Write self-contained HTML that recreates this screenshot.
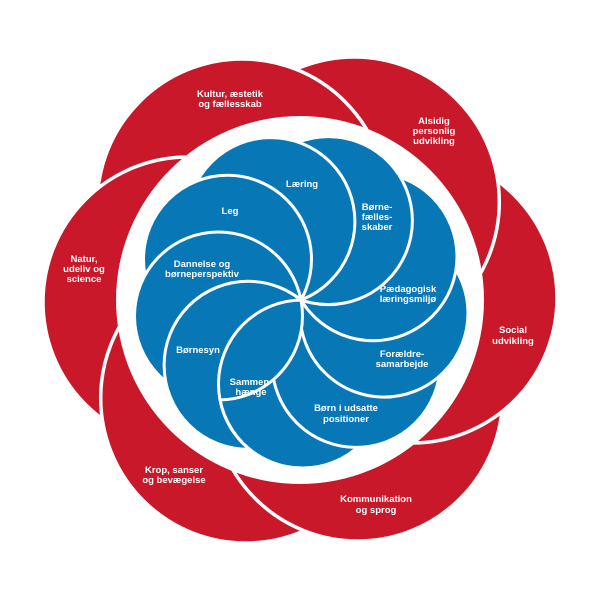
<!DOCTYPE html>
<html><head><meta charset="utf-8"><style>
html,body{margin:0;padding:0;background:#fff;}
svg{display:block;}
text{font-family:"Liberation Sans",sans-serif;font-weight:bold;font-size:9.5px;fill:#fff;text-anchor:middle;}
</style></head><body>
<svg width="600" height="600" viewBox="0 0 600 600" xmlns="http://www.w3.org/2000/svg">
<defs>
<clipPath id="cr"><polygon points="106,650 -244,456 144,-244 494,-50"/></clipPath>
<clipPath id="cbs"><circle cx="248.1" cy="365.3" r="84"/></clipPath>
<mask id="mb" maskUnits="userSpaceOnUse" x="0" y="0" width="600" height="600">
<circle cx="218.5" cy="316" r="88" fill="#fff"/>
<circle cx="302.5" cy="384" r="85.5" fill="#000"/>
<circle cx="356.1" cy="363.4" r="85.5" fill="#000"/>
</mask>
</defs>
<g fill="#c8182a" stroke="#fff" stroke-width="3.5">
<circle cx="245.7" cy="398" r="145"/>
<circle cx="357.7" cy="396" r="145"/>
<circle cx="412" cy="298" r="145"/>
<circle cx="354.3" cy="202" r="145"/>
<circle cx="242.3" cy="204" r="145"/>
<circle cx="188" cy="302" r="145"/>
<circle cx="245.7" cy="398" r="145" clip-path="url(#cr)"/>
</g>
<circle cx="300" cy="300" r="184" fill="#fff"/>
<g fill="#0877b5" stroke="#fff" stroke-width="3">
<circle cx="248.1" cy="365.3" r="84"/>
<circle cx="302.5" cy="384" r="84"/>
<circle cx="356.1" cy="363.4" r="84"/>
<circle cx="384" cy="313.1" r="84"/>
<circle cx="373" cy="256.7" r="84"/>
<circle cx="328.4" cy="220.6" r="84"/>
<circle cx="270.9" cy="221.6" r="84"/>
<circle cx="227.5" cy="259.3" r="84"/>
<circle cx="218.5" cy="316" r="84"/>
<circle cx="248.1" cy="365.3" r="84" mask="url(#mb)"/>
<circle cx="302.5" cy="384" r="84" fill="none" clip-path="url(#cbs)"/>
</g>
<text x="230" y="97">Kultur, æstetik</text>
<text x="230" y="107">og fællesskab</text>
<text x="434" y="124">Alsidig</text>
<text x="434" y="134">personlig</text>
<text x="434" y="144">udvikling</text>
<text x="84" y="262">Natur,</text>
<text x="84" y="272">udeliv og</text>
<text x="84" y="282">science</text>
<text x="513" y="333">Social</text>
<text x="513" y="344">udvikling</text>
<text x="174" y="473">Krop, sanser</text>
<text x="174" y="483">og bevægelse</text>
<text x="376" y="502">Kommunikation</text>
<text x="376" y="513">og sprog</text>
<text x="302" y="187">Læring</text>
<text x="230" y="214">Leg</text>
<text x="202" y="267">Dannelse og</text>
<text x="202" y="277">børneperspektiv</text>
<text x="377" y="210">Børne-</text>
<text x="377" y="220">fælles-</text>
<text x="377" y="230">skaber</text>
<text x="408" y="292">Pædagogisk</text>
<text x="408" y="302">læringsmiljø</text>
<text x="402" y="357">Forældre-</text>
<text x="402" y="367">samarbejde</text>
<text x="346" y="411">Børn i udsatte</text>
<text x="346" y="422">positioner</text>
<text x="251" y="385">Sammen-</text>
<text x="251" y="395">hænge</text>
<text x="198" y="353">Børnesyn</text>
</svg>
</body></html>
